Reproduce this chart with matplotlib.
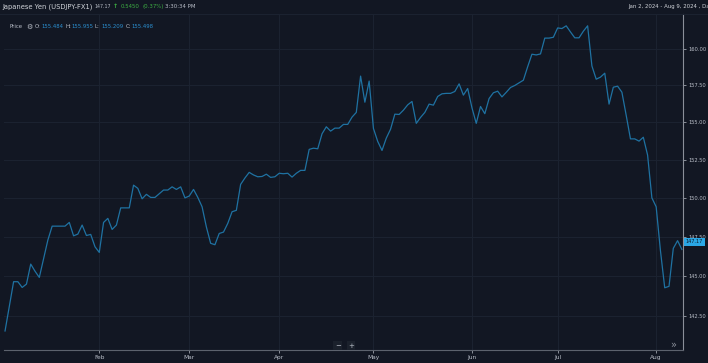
import numpy as np
import pandas as pd
import matplotlib
matplotlib.use("Agg")
import matplotlib.pyplot as plt
from matplotlib.ticker import FixedLocator, NullLocator

# USD/JPY daily closes, Jan 2 - Aug 9 2024
dates = pd.bdate_range("2024-01-02", "2024-08-09")
closes = [
    141.58, 143.10, 144.64, 144.64, 144.28, 144.49, 145.75, 145.30, 144.91, 146.10,
    147.28, 148.17, 148.17, 148.17, 148.17, 148.41, 147.55, 147.66, 148.24, 147.57,
    147.64, 146.85, 146.49, 148.41, 148.67, 147.96, 148.24, 149.35, 149.35, 149.35,
    150.83, 150.62, 149.94, 150.23, 150.03, 150.03, 150.27, 150.51, 150.51, 150.72,
    150.55, 150.72, 150.00, 150.12, 150.55, 150.03, 149.42, 148.12, 147.07, 146.98,
    147.70, 147.79, 148.35, 149.10, 149.19, 150.88, 151.30, 151.67, 151.50, 151.38,
    151.40, 151.55, 151.34, 151.38, 151.61, 151.58, 151.61, 151.36, 151.61, 151.80,
    151.80, 153.19, 153.27, 153.23, 154.23, 154.70, 154.41, 154.61, 154.61, 154.86,
    154.86, 155.35, 155.67, 158.14, 156.36, 157.80, 154.59, 153.72, 153.12, 153.94,
    154.54, 155.55, 155.53, 155.82, 156.18, 156.41, 154.93, 155.33, 155.67, 156.23,
    156.16, 156.75, 156.93, 156.96, 156.96, 157.09, 157.61, 156.84, 157.29, 155.98,
    154.93, 156.07, 155.58, 156.61, 157.00, 157.11, 156.72, 157.03, 157.36, 157.50,
    157.68, 157.86, 158.78, 159.65, 159.60, 159.67, 160.77, 160.77, 160.83, 161.48,
    161.44, 161.63, 161.20, 160.79, 160.79, 161.25, 161.63, 158.84, 157.93, 158.07,
    158.34, 156.23, 157.38, 157.45, 157.04, 155.48, 153.89, 153.89, 153.74, 154.00,
    152.81, 150.00, 149.42, 146.60, 144.26, 144.35, 146.75, 147.24, 146.68,
]
price_ticks = [142.5, 145.0, 147.5, 150.0, 152.5, 155.0, 157.5, 160.0]
month_names = ["Feb", "Mar", "Apr", "May", "Jun", "Jul", "Aug"]
last_price = 147.17

bg = "#121723"
grid_c = "#1c2331"
text_c = "#b9bec8"
line_c = "#1f72a2"
blue_txt = "#2b8fd0"
green = "#3db043"

x = np.arange(len(dates))
# first trading day of each month from Feb on
month_idx = [int(np.argmax((dates.month == m))) for m in range(2, 9)]

fig = plt.figure(figsize=(7.08, 3.63), dpi=100, facecolor=bg)
ax = fig.add_axes([0.0056, 0.036, 0.9593, 0.925])
ax.set_facecolor(bg)

ax.plot(x, closes, color=line_c, lw=0.9)

ax.set_yscale("log")
ax.set_ylim(140.42, 162.45)
ax.set_xlim(-0.25, 158.3)

ax.yaxis.set_major_locator(FixedLocator(price_ticks))
ax.yaxis.set_minor_locator(NullLocator())
ax.set_yticklabels([f"{v:.2f}" for v in price_ticks])
ax.yaxis.tick_right()
ax.tick_params(axis="y", colors=text_c, labelsize=3.7, length=2, width=0.5,
               pad=1.5, labelcolor=text_c)
ax.set_xticks(month_idx)
ax.set_xticklabels(month_names)
ax.tick_params(axis="x", colors=text_c, labelsize=4.2, length=2, width=0.5,
               pad=1.5, labelcolor=text_c)

ax.grid(True, color=grid_c, lw=0.7)
for side in ["top", "left"]:
    ax.spines[side].set_visible(False)
ax.spines["right"].set_color("#8a8f99")
ax.spines["bottom"].set_color("#5c626d")
ax.spines["right"].set_linewidth(0.8)
ax.spines["bottom"].set_linewidth(0.8)

# last price tag
ax.annotate(f"{last_price:.2f}", xy=(1.0, last_price), xycoords=("axes fraction", "data"),
            xytext=(2, 0), textcoords="offset points", ha="left", va="center",
            fontsize=3.6, color="#0b1a26",
            bbox=dict(boxstyle="square,pad=0.3", fc="#2aa7e6", ec="none"))

# header
fig.add_artist(plt.Line2D([0, 1], [1 - 14 / 363] * 2, color=grid_c, lw=0.7))
fig.text(0.004, 0.981, "Japanese Yen (USDJPY-FX1)", color="#d0d3d9",
         fontsize=4.9, va="center", ha="left")
fig.text(0.134, 0.981, "147.17", color=text_c, fontsize=3.4, va="center")
fig.text(0.160, 0.981, "\u2191", color=green, fontsize=4.5, va="center", weight="bold")
fig.text(0.170, 0.981, "0.5450", color=green, fontsize=3.9, va="center")
fig.text(0.201, 0.981, "(0.37%)", color=green, fontsize=3.9, va="center")
fig.text(0.233, 0.981, "3:30:34 PM", color=text_c, fontsize=3.9, va="center")
fig.text(0.887, 0.981, "Jan 2, 2024 - Aug 9, 2024 , Daily", color="#d0d3d9",
         fontsize=3.9, va="center", ha="left")

fig.text(0.014, 0.926, "Price", color=text_c, fontsize=3.9, va="center")
fig.text(0.037, 0.926, "\u2699", color=text_c, fontsize=5, va="center")
ohlc = [("O:", "155.484"), ("H:", "155.955"), ("L:", "155.209"), ("C:", "155.498")]
xpos = [0.049, 0.092, 0.134, 0.177]
for xp, (lab, val) in zip(xpos, ohlc):
    fig.text(xp, 0.926, lab, color=text_c, fontsize=3.9, va="center")
    fig.text(xp + 0.009, 0.926, val, color=blue_txt, fontsize=3.9, va="center")

# zoom controls
fig.text(0.477, 0.048, "\u2212", color=text_c, fontsize=5, va="center", ha="center",
         bbox=dict(boxstyle="square,pad=0.2", fc="#1b212c", ec="none"))
fig.text(0.496, 0.048, "+", color=text_c, fontsize=5, va="center", ha="center",
         bbox=dict(boxstyle="square,pad=0.2", fc="#1b212c", ec="none"))
fig.text(0.950, 0.050, "\u00bb", color="#8a8f99", fontsize=7, va="center", ha="center")

fig.savefig("out.png", dpi=100, facecolor=bg)
